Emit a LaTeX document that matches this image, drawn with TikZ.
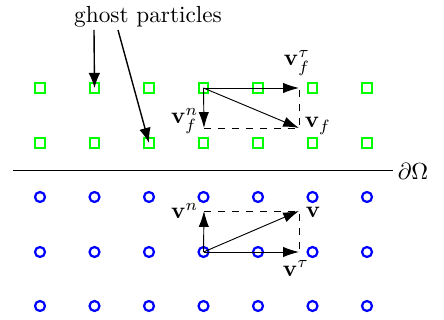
\documentclass[tikz,border=0pt]{standalone}
\usetikzlibrary{arrows.meta}
\definecolor{ghostgreen}{RGB}{0,255,0}
\definecolor{fluidblue}{RGB}{0,0,255}
\begin{document}
\begin{tikzpicture}[x=0.43pt,y=-0.43pt,
  ghost/.style={draw=ghostgreen,line width=0.95pt,minimum size=4.2pt,inner sep=0pt,outer sep=0pt,rectangle},
  fluid/.style={draw=fluidblue,line width=0.95pt,minimum size=4.3pt,inner sep=0pt,outer sep=0pt,circle},
  vec/.style={line width=0.4pt,-{Latex[length=6.8pt,width=4.4pt]}},
  proj/.style={line width=0.4pt,dashed},
  pointer/.style={line width=0.6pt,-{Latex[length=6.5pt,width=5pt]}},
  lbl/.style={inner sep=1pt}]
\useasboundingbox (0,0) rectangle (444,320);
% particles
\foreach \i in {1,...,7}{
  \foreach \r/\yy in {1/88,2/143}{
    \node[ghost] (g\r\i) at ({40+54.5*(\i-1)},\yy) {};
  }
  \foreach \r/\yy in {1/197,2/252,3/306}{
    \node[fluid] (b\r\i) at ({40+54.5*(\i-1)},\yy) {};
  }
}
% boundary
\coordinate (bl) at (13,170);
\coordinate (br) at (393,170);
\draw[line width=0.4pt] (bl) -- (br);
\node[lbl,anchor=west] (dO) at (395,171) {$\partial\Omega$};
% ghost particles label
\node[lbl] (gp) at (148,17) {ghost particles};
\coordinate (gp1) at (94,30);
\coordinate (gp2) at (118,30);
\draw[pointer] (gp1) -- (g12.center);
\draw[pointer] (gp2) -- (g23.center);
% top vectors
\coordinate (tt) at (299,88);
\coordinate (tn) at (204,128);
\coordinate (tv) at (299,128);
\draw[proj] (tn) -- (tv) -- (tt);
\draw[vec] (g14.center) -- (tt);
\draw[vec] (g14.center) -- (tn);
\draw[vec] (g14.center) -- (tv);
\node[lbl,anchor=south] (ltt) at (297,78) {$\mathbf{v}_f^\tau$};
\node[lbl,anchor=east] (ltn) at (201,121) {$\mathbf{v}_f^n$};
\node[lbl,anchor=west] (ltv) at (302,126) {$\mathbf{v}_f$};
% bottom vectors
\coordinate (bt) at (299,252);
\coordinate (bn) at (204,211);
\coordinate (bv) at (299,211);
\draw[proj] (bn) -- (bv) -- (bt);
\draw[vec] (b24.center) -- (bt);
\draw[vec] (b24.center) -- (bn);
\draw[vec] (b24.center) -- (bv);
\node[lbl,anchor=east] (lbn) at (201,211) {$\mathbf{v}^n$};
\node[lbl,anchor=west] (lbv) at (303,212) {$\mathbf{v}$};
\node[lbl,anchor=north] (lbt) at (296,258) {$\mathbf{v}^\tau$};
\end{tikzpicture}
\end{document}
